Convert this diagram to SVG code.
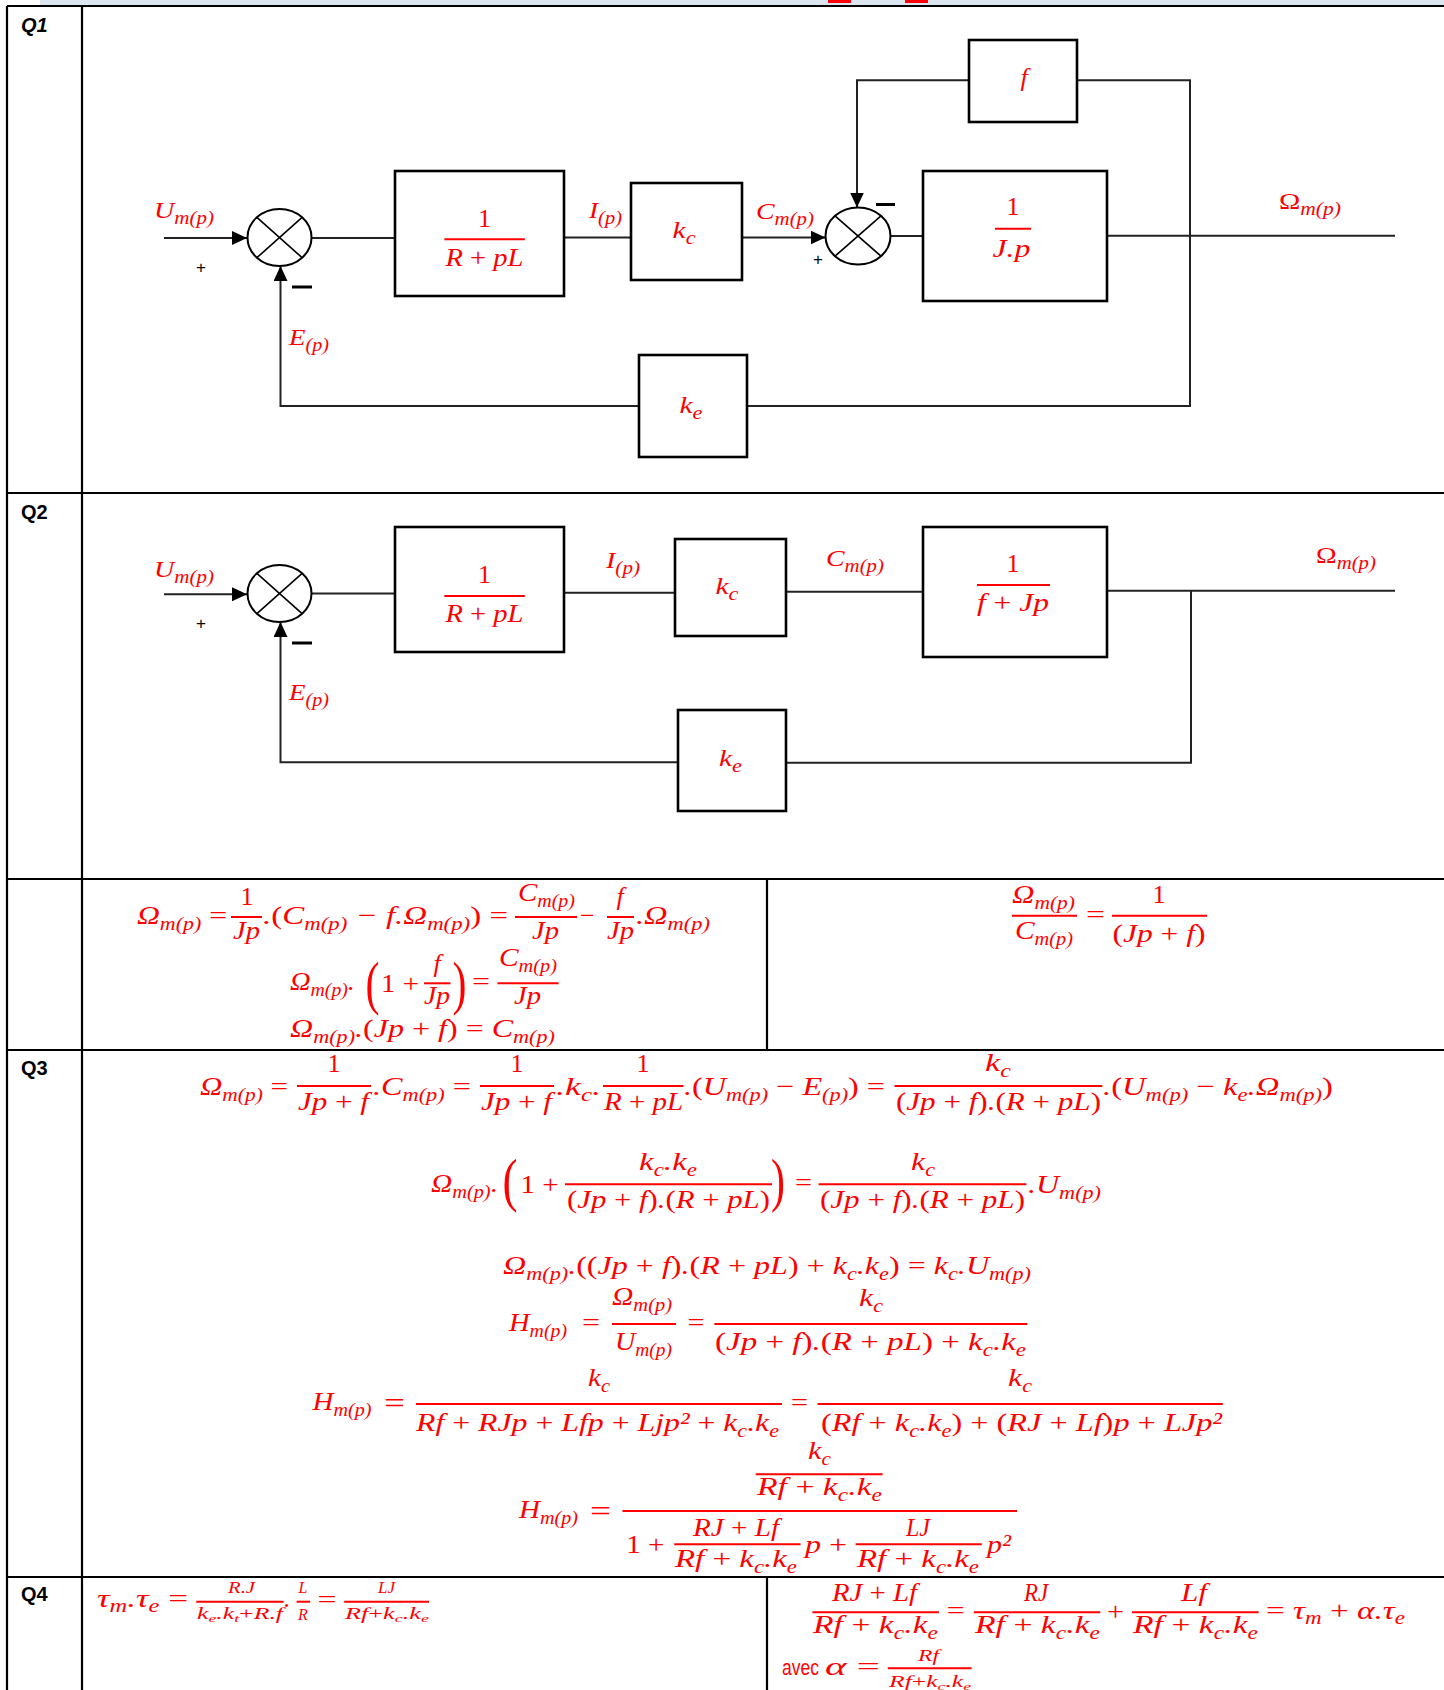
<svg xmlns="http://www.w3.org/2000/svg" width="1444" height="1690" viewBox="0 0 1444 1690">
<style>
.tbl{stroke:#000;stroke-width:2.2;fill:none}
.blk{fill:#fff;stroke:#000;stroke-width:2.6}
.w{stroke:#222;stroke-width:2;fill:none}
.sum{fill:#fff;stroke:#000;stroke-width:2}
.x{stroke:#000;stroke-width:1.6}
.t{font-family:"Liberation Serif","DejaVu Serif",serif;font-style:italic;fill:#f00;font-size:26px}
.d{font-size:24px}
.u{font-style:normal}
.sb{font-size:18px}
.sm{font-size:16px}
.ss{font-size:11px}
.bp{font-size:60px;font-style:normal}
.be{font-size:30px;font-style:normal}
.bar{stroke:#f00;stroke-width:2}
.q{font-family:"Liberation Sans",Arial,sans-serif;font-weight:bold;font-size:20px;fill:#000}
.sg{font-family:"Liberation Sans",Arial,sans-serif;font-size:17px;fill:#000;text-anchor:middle}
.mn{stroke:#000;stroke-width:3}
.c{text-anchor:middle}
.av{font-family:"Liberation Sans",Arial,sans-serif;font-size:22px;fill:#f00}
</style>
<defs>
<marker id="ah" markerUnits="userSpaceOnUse" markerWidth="16" markerHeight="14" refX="15" refY="7" orient="auto"><path d="M0,0 L15,7 L0,14 z" fill="#000"/></marker>
</defs>

<g id="table">
<rect x="40" y="0" width="1404" height="5" fill="#dce6f1"/>
<rect x="828" y="0" width="23" height="3" fill="#f00"/>
<rect x="905" y="0" width="23" height="3" fill="#f00"/>
<path class="tbl" d="M7,6 H1444 M7,6 V1690 M82,6 V1690 M7,493 H1444 M7,879 H1444 M767,879 V1050 M7,1050 H1444 M7,1577 H1444 M767,1577 V1690"/>
<text class="q" x="21" y="32" font-style="italic">Q1</text>
<text class="q" x="21" y="519">Q2</text>
<text class="q" x="21" y="1075">Q3</text>
<text class="q" x="21" y="1601">Q4</text>
</g>

<!-- Q1 connectors -->
<g id="q1-connectors">
<path class="w" d="M164,238 H247" marker-end="url(#ah)"/>
<path class="w" d="M311.5,238 H395"/>
<path class="w" d="M564,237.5 H631"/>
<path class="w" d="M742,237.5 H825.5" marker-end="url(#ah)"/>
<path class="w" d="M890.5,236 H923"/>
<path class="w" d="M1107,235.7 H1395"/>
<path class="w" d="M1077,80.3 H1190 V406 H747"/>
<path class="w" d="M969,80.3 H857 V207.5" marker-end="url(#ah)"/>
<path class="w" d="M639,406 H280.5 V266" marker-end="url(#ah)"/>
<text class="sg" x="201" y="273">+</text>
<line class="mn" x1="292" y1="287" x2="312" y2="287"/>
<text class="sg" x="818" y="265">+</text>
<line class="mn" x1="876" y1="204.5" x2="895" y2="204.5"/>
<text class="t d" x="154" y="218" textLength="60" lengthAdjust="spacingAndGlyphs">U<tspan class="sb" dy="6">m(p)</tspan></text>
<text class="t d" x="589" y="218" textLength="33" lengthAdjust="spacingAndGlyphs">I<tspan class="sb" dy="6">(p)</tspan></text>
<text class="t d" x="756" y="219" textLength="58" lengthAdjust="spacingAndGlyphs">C<tspan class="sb" dy="6">m(p)</tspan></text>
<text class="t d" x="1279" y="209" textLength="62" lengthAdjust="spacingAndGlyphs"><tspan class="u">Ω</tspan><tspan class="sb" dy="6">m(p)</tspan></text>
<text class="t d" x="289" y="345" textLength="40" lengthAdjust="spacingAndGlyphs">E<tspan class="sb" dy="6">(p)</tspan></text>
</g>

<g id="q1-sum1"><ellipse class="sum" cx="279.5" cy="237.5" rx="32" ry="28.5"/><path class="x" d="M256.9,217.3 L302.1,257.7 M302.1,217.3 L256.9,257.7"/></g>
<g id="q1-box-rl"><rect class="blk" x="395" y="171" width="169" height="125"/>
<text class="t u c" x="484.5" y="226.7">1</text><line class="bar" x1="444.4" y1="239.3" x2="524.8" y2="239.3"/>
<text class="t" x="445.4" y="266" textLength="78" lengthAdjust="spacingAndGlyphs">R <tspan class="u">+</tspan> pL</text></g>
<g id="q1-kc"><rect class="blk" x="631" y="183" width="111" height="97"/>
<text class="t d" x="672.6" y="238" textLength="23" lengthAdjust="spacingAndGlyphs">k<tspan class="sb" dy="6">c</tspan></text></g>
<g id="q1-sum2"><ellipse class="sum" cx="858" cy="236" rx="32.5" ry="28.5"/><path class="x" d="M835,215.8 L881,256.2 M881,215.8 L835,256.2"/></g>
<g id="q1-box-jp"><rect class="blk" x="923" y="171" width="184" height="130"/>
<text class="t u c" x="1013" y="215">1</text><line class="bar" x1="995" y1="228.7" x2="1031" y2="228.7"/>
<text class="t" x="992.4" y="256.7" textLength="38" lengthAdjust="spacingAndGlyphs">J.p</text></g>
<g id="q1-f"><rect class="blk" x="969" y="40" width="108" height="82"/>
<text class="t c" x="1024" y="86">f</text></g>
<g id="q1-ke"><rect class="blk" x="639" y="355" width="108" height="102"/>
<text class="t d" x="679.5" y="413" textLength="23" lengthAdjust="spacingAndGlyphs">k<tspan class="sb" dy="6">e</tspan></text></g>

<!-- Q2 -->
<g id="q2-connectors">
<path class="w" d="M164,594.3 H247" marker-end="url(#ah)"/>
<path class="w" d="M311.5,593.5 H395"/>
<path class="w" d="M564,592.7 H675"/>
<path class="w" d="M786,591.7 H923"/>
<path class="w" d="M1107,590.7 H1395"/>
<path class="w" d="M1191,590.7 V762.7 H786"/>
<path class="w" d="M678,762.3 H280.5 V622" marker-end="url(#ah)"/>
<text class="sg" x="201" y="629">+</text>
<line class="mn" x1="292" y1="643" x2="312" y2="643"/>
<text class="t d" x="154" y="577" textLength="60" lengthAdjust="spacingAndGlyphs">U<tspan class="sb" dy="6">m(p)</tspan></text>
<text class="t d" x="606" y="568" textLength="34" lengthAdjust="spacingAndGlyphs">I<tspan class="sb" dy="6">(p)</tspan></text>
<text class="t d" x="826" y="566" textLength="58" lengthAdjust="spacingAndGlyphs">C<tspan class="sb" dy="6">m(p)</tspan></text>
<text class="t d" x="1316" y="563" textLength="60" lengthAdjust="spacingAndGlyphs"><tspan class="u">Ω</tspan><tspan class="sb" dy="6">m(p)</tspan></text>
<text class="t d" x="289" y="700" textLength="40" lengthAdjust="spacingAndGlyphs">E<tspan class="sb" dy="6">(p)</tspan></text>
</g>
<g id="q2-sum"><ellipse class="sum" cx="279.5" cy="593.5" rx="32" ry="28.5"/><path class="x" d="M256.9,573.3 L302.1,613.7 M302.1,573.3 L256.9,613.7"/></g>
<g id="q2-box-rl"><rect class="blk" x="395" y="527" width="169" height="125"/>
<text class="t u c" x="484.5" y="582.7">1</text><line class="bar" x1="444.4" y1="596" x2="524.8" y2="596"/>
<text class="t" x="445.4" y="621.7" textLength="78" lengthAdjust="spacingAndGlyphs">R <tspan class="u">+</tspan> pL</text></g>
<g id="q2-kc"><rect class="blk" x="675" y="539" width="111" height="97"/>
<text class="t d" x="715.5" y="594" textLength="23" lengthAdjust="spacingAndGlyphs">k<tspan class="sb" dy="6">c</tspan></text></g>
<g id="q2-box-fjp"><rect class="blk" x="923" y="527" width="184" height="130"/>
<text class="t u c" x="1013" y="571.7">1</text><line class="bar" x1="977" y1="585" x2="1050" y2="585"/>
<text class="t" x="977" y="610.7" textLength="72" lengthAdjust="spacingAndGlyphs">f <tspan class="u">+</tspan> Jp</text></g>
<g id="q2-ke"><rect class="blk" x="678" y="710" width="108" height="101"/>
<text class="t d" x="719" y="766" textLength="23" lengthAdjust="spacingAndGlyphs">k<tspan class="sb" dy="6">e</tspan></text></g>

<!-- Q2 equations -->
<g id="q2-eq-left">
<text class="t" x="137" y="924" textLength="90" lengthAdjust="spacingAndGlyphs">Ω<tspan class="sb" dy="6">m(p)</tspan><tspan class="u" dy="-6"> =</tspan></text>
<text class="t u c" x="247" y="905">1</text><line class="bar" x1="231" y1="917" x2="262" y2="917"/>
<text class="t" x="233" y="939" textLength="27" lengthAdjust="spacingAndGlyphs">Jp</text>
<text class="t" x="263" y="924" textLength="245" lengthAdjust="spacingAndGlyphs">.<tspan class="u">(</tspan>C<tspan class="sb" dy="6">m(p)</tspan><tspan dy="-6"> − f.Ω</tspan><tspan class="sb" dy="6">m(p)</tspan><tspan class="u" dy="-6">) =</tspan></text>
<text class="t" x="518" y="901" textLength="57" lengthAdjust="spacingAndGlyphs">C<tspan class="sb" dy="6">m(p)</tspan></text>
<line class="bar" x1="515" y1="917" x2="577" y2="917"/>
<text class="t" x="532" y="939" textLength="27" lengthAdjust="spacingAndGlyphs">Jp</text>
<text class="t u" x="580" y="924">−</text>
<text class="t c" x="620" y="905">f</text><line class="bar" x1="607" y1="917" x2="634" y2="917"/>
<text class="t" x="607" y="939" textLength="27" lengthAdjust="spacingAndGlyphs">Jp</text>
<text class="t" x="636" y="924" textLength="74" lengthAdjust="spacingAndGlyphs">.Ω<tspan class="sb" dy="6">m(p)</tspan></text>

<text class="t" x="290" y="990" textLength="65" lengthAdjust="spacingAndGlyphs">Ω<tspan class="sb" dy="6">m(p)</tspan><tspan dy="-6">.</tspan></text>
<text class="t bp" x="365.5" y="1003" textLength="14" lengthAdjust="spacingAndGlyphs">(</text>
<text class="t u" x="381" y="992" textLength="38" lengthAdjust="spacingAndGlyphs">1 +</text>
<text class="t c" x="437" y="972">f</text><line class="bar" x1="424" y1="983.3" x2="450.5" y2="983.3"/>
<text class="t" x="424" y="1004" textLength="26" lengthAdjust="spacingAndGlyphs">Jp</text>
<text class="t bp" x="452.5" y="1003" textLength="14" lengthAdjust="spacingAndGlyphs">)</text>
<text class="t u" x="472" y="990" textLength="18" lengthAdjust="spacingAndGlyphs">=</text>
<text class="t" x="499" y="966" textLength="58" lengthAdjust="spacingAndGlyphs">C<tspan class="sb" dy="6">m(p)</tspan></text>
<line class="bar" x1="497.4" y1="983.3" x2="558.6" y2="983.3"/>
<text class="t" x="514" y="1004" textLength="27" lengthAdjust="spacingAndGlyphs">Jp</text>

<text class="t" x="290" y="1037" textLength="265" lengthAdjust="spacingAndGlyphs">Ω<tspan class="sb" dy="6">m(p)</tspan><tspan dy="-6">.</tspan><tspan class="u">(</tspan>Jp <tspan class="u">+</tspan> f<tspan class="u">) = </tspan>C<tspan class="sb" dy="6">m(p)</tspan></text>
</g>

<g id="q2-eq-right">
<text class="t" x="1012" y="903" textLength="63" lengthAdjust="spacingAndGlyphs">Ω<tspan class="sb" dy="6">m(p)</tspan></text>
<line class="bar" x1="1012" y1="915.7" x2="1077" y2="915.7"/>
<text class="t" x="1015" y="939" textLength="58" lengthAdjust="spacingAndGlyphs">C<tspan class="sb" dy="6">m(p)</tspan></text>
<text class="t u" x="1086" y="923" textLength="19" lengthAdjust="spacingAndGlyphs">=</text>
<text class="t u c" x="1159" y="903">1</text>
<line class="bar" x1="1112" y1="915.7" x2="1207" y2="915.7"/>
<text class="t" x="1112.5" y="942" textLength="93" lengthAdjust="spacingAndGlyphs"><tspan class="u">(</tspan>Jp <tspan class="u">+</tspan> f<tspan class="u">)</tspan></text>
</g>

<!-- Q3 -->
<g id="q3-eq">
<text class="t" x="200" y="1095" textLength="88" lengthAdjust="spacingAndGlyphs">Ω<tspan class="sb" dy="6">m(p)</tspan><tspan class="u" dy="-6"> =</tspan></text>
<text class="t u c" x="334" y="1072">1</text><line class="bar" x1="297" y1="1086" x2="371" y2="1086"/>
<text class="t" x="298" y="1110" textLength="71" lengthAdjust="spacingAndGlyphs">Jp <tspan class="u">+</tspan> f</text>
<text class="t" x="373" y="1095" textLength="98" lengthAdjust="spacingAndGlyphs">.C<tspan class="sb" dy="6">m(p)</tspan><tspan class="u" dy="-6"> =</tspan></text>
<text class="t u c" x="517" y="1072">1</text><line class="bar" x1="480" y1="1086" x2="554" y2="1086"/>
<text class="t" x="481" y="1110" textLength="71" lengthAdjust="spacingAndGlyphs">Jp <tspan class="u">+</tspan> f</text>
<text class="t" x="556" y="1095" textLength="45" lengthAdjust="spacingAndGlyphs">.k<tspan class="sb" dy="6">c</tspan><tspan dy="-6">.</tspan></text>
<text class="t u c" x="643" y="1072">1</text><line class="bar" x1="603" y1="1086" x2="683.5" y2="1086"/>
<text class="t" x="604" y="1110" textLength="79" lengthAdjust="spacingAndGlyphs">R <tspan class="u">+</tspan> pL</text>
<text class="t" x="684" y="1095" textLength="201" lengthAdjust="spacingAndGlyphs">.<tspan class="u">(</tspan>U<tspan class="sb" dy="6">m(p)</tspan><tspan class="u" dy="-6"> − </tspan>E<tspan class="sb" dy="6">(p)</tspan><tspan class="u" dy="-6">) =</tspan></text>
<text class="t" x="985" y="1071" textLength="26" lengthAdjust="spacingAndGlyphs">k<tspan class="sb" dy="6">c</tspan></text>
<line class="bar" x1="894.5" y1="1086" x2="1102.3" y2="1086"/>
<text class="t" x="896" y="1110" textLength="205" lengthAdjust="spacingAndGlyphs"><tspan class="u">(</tspan>Jp <tspan class="u">+</tspan> f<tspan class="u">)</tspan>.<tspan class="u">(</tspan>R <tspan class="u">+</tspan> pL<tspan class="u">)</tspan></text>
<text class="t" x="1103" y="1095" textLength="230" lengthAdjust="spacingAndGlyphs">.<tspan class="u">(</tspan>U<tspan class="sb" dy="6">m(p)</tspan><tspan class="u" dy="-6"> − </tspan>k<tspan class="sb" dy="6">e</tspan><tspan dy="-6">.Ω</tspan><tspan class="sb" dy="6">m(p)</tspan><tspan class="u" dy="-6">)</tspan></text>

<text class="t" x="431" y="1192" textLength="67" lengthAdjust="spacingAndGlyphs">Ω<tspan class="sb" dy="6">m(p)</tspan><tspan dy="-6">.</tspan></text>
<text class="t bp" x="502.5" y="1200" textLength="15" lengthAdjust="spacingAndGlyphs">(</text>
<text class="t u" x="520.5" y="1193" textLength="38" lengthAdjust="spacingAndGlyphs">1 +</text>
<text class="t" x="639" y="1170" textLength="58" lengthAdjust="spacingAndGlyphs">k<tspan class="sb" dy="6">c</tspan><tspan dy="-6">.k</tspan><tspan class="sb" dy="6">e</tspan></text>
<line class="bar" x1="565" y1="1184.3" x2="772" y2="1184.3"/>
<text class="t" x="567" y="1208" textLength="203" lengthAdjust="spacingAndGlyphs"><tspan class="u">(</tspan>Jp <tspan class="u">+</tspan> f<tspan class="u">)</tspan>.<tspan class="u">(</tspan>R <tspan class="u">+</tspan> pL<tspan class="u">)</tspan></text>
<text class="t bp" x="771" y="1200" textLength="14" lengthAdjust="spacingAndGlyphs">)</text>
<text class="t u" x="795" y="1191" textLength="17" lengthAdjust="spacingAndGlyphs">=</text>
<text class="t" x="911" y="1170" textLength="24" lengthAdjust="spacingAndGlyphs">k<tspan class="sb" dy="6">c</tspan></text>
<line class="bar" x1="818.6" y1="1184.3" x2="1026.4" y2="1184.3"/>
<text class="t" x="820" y="1208" textLength="205" lengthAdjust="spacingAndGlyphs"><tspan class="u">(</tspan>Jp <tspan class="u">+</tspan> f<tspan class="u">)</tspan>.<tspan class="u">(</tspan>R <tspan class="u">+</tspan> pL<tspan class="u">)</tspan></text>
<text class="t" x="1028" y="1193" textLength="73" lengthAdjust="spacingAndGlyphs">.U<tspan class="sb" dy="6">m(p)</tspan></text>

<text class="t" x="503" y="1274" textLength="528" lengthAdjust="spacingAndGlyphs">Ω<tspan class="sb" dy="6">m(p)</tspan><tspan dy="-6">.</tspan><tspan class="u">((</tspan>Jp <tspan class="u">+</tspan> f<tspan class="u">)</tspan>.<tspan class="u">(</tspan>R <tspan class="u">+</tspan> pL<tspan class="u">) + </tspan>k<tspan class="sb" dy="6">c</tspan><tspan dy="-6">.k</tspan><tspan class="sb" dy="6">e</tspan><tspan class="u" dy="-6">) = </tspan>k<tspan class="sb" dy="6">c</tspan><tspan dy="-6">.U</tspan><tspan class="sb" dy="6">m(p)</tspan></text>

<text class="t" x="509" y="1331" textLength="58" lengthAdjust="spacingAndGlyphs">H<tspan class="sb" dy="6">m(p)</tspan></text>
<text class="t u" x="582" y="1331" textLength="18" lengthAdjust="spacingAndGlyphs">=</text>
<text class="t" x="612" y="1305" textLength="60" lengthAdjust="spacingAndGlyphs">Ω<tspan class="sb" dy="6">m(p)</tspan></text>
<line class="bar" x1="612" y1="1324" x2="676" y2="1324"/>
<text class="t" x="615" y="1350" textLength="57" lengthAdjust="spacingAndGlyphs">U<tspan class="sb" dy="6">m(p)</tspan></text>
<text class="t u" x="687.6" y="1331" textLength="17" lengthAdjust="spacingAndGlyphs">=</text>
<text class="t" x="859" y="1306" textLength="24" lengthAdjust="spacingAndGlyphs">k<tspan class="sb" dy="6">c</tspan></text>
<line class="bar" x1="714.4" y1="1324" x2="1027.3" y2="1324"/>
<text class="t" x="715" y="1350" textLength="311" lengthAdjust="spacingAndGlyphs"><tspan class="u">(</tspan>Jp <tspan class="u">+</tspan> f<tspan class="u">)</tspan>.<tspan class="u">(</tspan>R <tspan class="u">+</tspan> pL<tspan class="u">) + </tspan>k<tspan class="sb" dy="6">c</tspan><tspan dy="-6">.k</tspan><tspan class="sb" dy="6">e</tspan></text>

<text class="t" x="312.5" y="1410" textLength="59" lengthAdjust="spacingAndGlyphs">H<tspan class="sb" dy="6">m(p)</tspan></text>
<text class="t be" x="384" y="1413" textLength="21" lengthAdjust="spacingAndGlyphs">=</text>
<text class="t" x="588" y="1386" textLength="22" lengthAdjust="spacingAndGlyphs">k<tspan class="sb" dy="6">c</tspan></text>
<line class="bar" x1="416" y1="1404" x2="782" y2="1404"/>
<text class="t" x="416" y="1431" textLength="363" lengthAdjust="spacingAndGlyphs">Rf <tspan class="u">+</tspan> RJp <tspan class="u">+</tspan> Lfp <tspan class="u">+</tspan> Ljp² <tspan class="u">+</tspan> k<tspan class="sb" dy="6">c</tspan><tspan dy="-6">.k</tspan><tspan class="sb" dy="6">e</tspan></text>
<text class="t u" x="791" y="1411" textLength="17" lengthAdjust="spacingAndGlyphs">=</text>
<text class="t" x="1008" y="1386" textLength="24" lengthAdjust="spacingAndGlyphs">k<tspan class="sb" dy="6">c</tspan></text>
<line class="bar" x1="817.6" y1="1404" x2="1222.8" y2="1404"/>
<text class="t" x="821" y="1431" textLength="401" lengthAdjust="spacingAndGlyphs"><tspan class="u">(</tspan>Rf <tspan class="u">+</tspan> k<tspan class="sb" dy="6">c</tspan><tspan dy="-6">.k</tspan><tspan class="sb" dy="6">e</tspan><tspan class="u" dy="-6">) + (</tspan>RJ <tspan class="u">+</tspan> Lf<tspan class="u">)</tspan>p <tspan class="u">+</tspan> LJp²</text>

<text class="t" x="519" y="1518" textLength="59" lengthAdjust="spacingAndGlyphs">H<tspan class="sb" dy="6">m(p)</tspan></text>
<text class="t be" x="590" y="1521" textLength="21" lengthAdjust="spacingAndGlyphs">=</text>
<line class="bar" x1="622.5" y1="1511" x2="1017" y2="1511"/>
<text class="t" x="808" y="1459" textLength="23" lengthAdjust="spacingAndGlyphs">k<tspan class="sb" dy="6">c</tspan></text>
<line class="bar" x1="755.7" y1="1474.3" x2="882.6" y2="1474.3"/>
<text class="t" x="757" y="1495" textLength="125" lengthAdjust="spacingAndGlyphs">Rf <tspan class="u">+</tspan> k<tspan class="sb" dy="6">c</tspan><tspan dy="-6">.k</tspan><tspan class="sb" dy="6">e</tspan></text>
<text class="t u" x="626.3" y="1553" textLength="38" lengthAdjust="spacingAndGlyphs">1 +</text>
<text class="t" x="693" y="1536" textLength="86" lengthAdjust="spacingAndGlyphs">RJ <tspan class="u">+</tspan> Lf</text>
<line class="bar" x1="674.2" y1="1544.3" x2="800.5" y2="1544.3"/>
<text class="t" x="675" y="1567" textLength="122" lengthAdjust="spacingAndGlyphs">Rf <tspan class="u">+</tspan> k<tspan class="sb" dy="6">c</tspan><tspan dy="-6">.k</tspan><tspan class="sb" dy="6">e</tspan></text>
<text class="t" x="805" y="1553" textLength="42" lengthAdjust="spacingAndGlyphs">p <tspan class="u">+</tspan></text>
<text class="t" x="906" y="1536" textLength="24" lengthAdjust="spacingAndGlyphs">LJ</text>
<line class="bar" x1="855.6" y1="1544.3" x2="981.8" y2="1544.3"/>
<text class="t" x="857" y="1567" textLength="122" lengthAdjust="spacingAndGlyphs">Rf <tspan class="u">+</tspan> k<tspan class="sb" dy="6">c</tspan><tspan dy="-6">.k</tspan><tspan class="sb" dy="6">e</tspan></text>
<text class="t" x="987" y="1553" textLength="24" lengthAdjust="spacingAndGlyphs">p²</text>
</g>

<!-- Q4 -->
<g id="q4-eq-left">
<text class="t" x="97" y="1607" textLength="91" lengthAdjust="spacingAndGlyphs">τ<tspan class="sb" dy="5">m</tspan><tspan dy="-5">.τ</tspan><tspan class="sb" dy="5">e</tspan><tspan class="u" dy="-5"> =</tspan></text>
<text class="t sm" x="228" y="1593" textLength="27" lengthAdjust="spacingAndGlyphs">R.J</text>
<line class="bar" x1="196.3" y1="1601.7" x2="283.6" y2="1601.7"/>
<text class="t sm" x="197" y="1619" textLength="86" lengthAdjust="spacingAndGlyphs">k<tspan class="ss" dy="3">e</tspan><tspan dy="-3">.k</tspan><tspan class="ss" dy="3">t</tspan><tspan class="u" dy="-3">+</tspan>R.f</text>
<text class="t" x="284" y="1607">.</text>
<text class="t sm c" x="303" y="1593">L</text>
<line class="bar" x1="296.6" y1="1601.7" x2="310.2" y2="1601.7"/>
<text class="t sm c" x="303" y="1620">R</text>
<text class="t u" x="317.5" y="1608" textLength="19" lengthAdjust="spacingAndGlyphs">=</text>
<text class="t sm" x="378" y="1593" textLength="17" lengthAdjust="spacingAndGlyphs">LJ</text>
<line class="bar" x1="344.2" y1="1601.7" x2="429" y2="1601.7"/>
<text class="t sm" x="345" y="1619" textLength="84" lengthAdjust="spacingAndGlyphs">Rf<tspan class="u">+</tspan>k<tspan class="ss" dy="3">c</tspan><tspan dy="-3">.k</tspan><tspan class="ss" dy="3">e</tspan></text>
</g>

<g id="q4-eq-right">
<text class="t" x="832" y="1601" textLength="85" lengthAdjust="spacingAndGlyphs">RJ <tspan class="u">+</tspan> Lf</text>
<line class="bar" x1="812.4" y1="1612.3" x2="938.9" y2="1612.3"/>
<text class="t" x="813" y="1633" textLength="125" lengthAdjust="spacingAndGlyphs">Rf <tspan class="u">+</tspan> k<tspan class="sb" dy="6">c</tspan><tspan dy="-6">.k</tspan><tspan class="sb" dy="6">e</tspan></text>
<text class="t u" x="946.7" y="1619" textLength="18" lengthAdjust="spacingAndGlyphs">=</text>
<text class="t" x="1024" y="1601" textLength="24" lengthAdjust="spacingAndGlyphs">RJ</text>
<line class="bar" x1="973.8" y1="1612.3" x2="1100.3" y2="1612.3"/>
<text class="t" x="975" y="1633" textLength="125" lengthAdjust="spacingAndGlyphs">Rf <tspan class="u">+</tspan> k<tspan class="sb" dy="6">c</tspan><tspan dy="-6">.k</tspan><tspan class="sb" dy="6">e</tspan></text>
<text class="t u" x="1107" y="1620" textLength="17" lengthAdjust="spacingAndGlyphs">+</text>
<text class="t" x="1181" y="1601" textLength="26" lengthAdjust="spacingAndGlyphs">Lf</text>
<line class="bar" x1="1132" y1="1612.3" x2="1258.7" y2="1612.3"/>
<text class="t" x="1133" y="1633" textLength="125" lengthAdjust="spacingAndGlyphs">Rf <tspan class="u">+</tspan> k<tspan class="sb" dy="6">c</tspan><tspan dy="-6">.k</tspan><tspan class="sb" dy="6">e</tspan></text>
<text class="t" x="1266" y="1619" textLength="139" lengthAdjust="spacingAndGlyphs"><tspan class="u">= </tspan>τ<tspan class="sb" dy="5">m</tspan><tspan class="u" dy="-5"> + </tspan>α.τ<tspan class="sb" dy="5">e</tspan></text>
<text class="av" x="782" y="1675" textLength="37" lengthAdjust="spacingAndGlyphs">avec</text>
<text class="t" x="825" y="1675" textLength="55" lengthAdjust="spacingAndGlyphs">α <tspan class="u">=</tspan></text>
<text class="t sm" x="918" y="1661" textLength="21" lengthAdjust="spacingAndGlyphs">Rf</text>
<line class="bar" x1="887.8" y1="1668.3" x2="971.6" y2="1668.3"/>
<text class="t sm" x="889" y="1687" textLength="82" lengthAdjust="spacingAndGlyphs">Rf<tspan class="u">+</tspan>k<tspan class="ss" dy="3">c</tspan><tspan dy="-3">.k</tspan><tspan class="ss" dy="3">e</tspan></text>
</g>
</svg>
